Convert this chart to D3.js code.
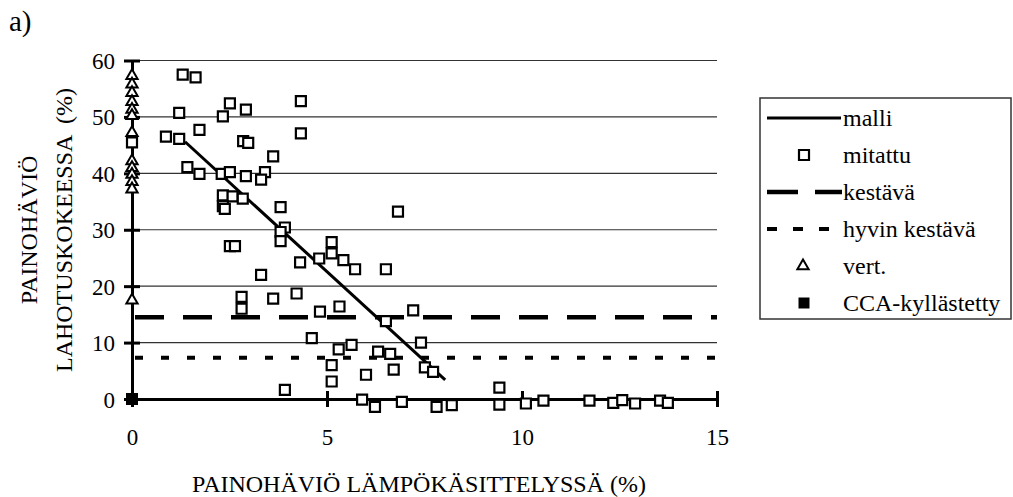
<!DOCTYPE html>
<html>
<head>
<meta charset="utf-8">
<script src="https://cdn.jsdelivr.net/npm/d3@7"></script>
<style>
body{margin:0;background:#fff;}
text{font-family:"Liberation Serif","Times New Roman",serif;fill:#000;}
</style>
</head>
<body>
<svg id="chart" width="1013" height="497"></svg>
<script>
// ticks
const xTicks = [0, 5, 10, 15];
const yTicks = [0, 10, 20, 30, 40, 50, 60];

// model line (malli)
const malli = [[1.36, 45.6], [8.03, 3.4]];

// measured points (mitattu)
const mitattu = [
    [0, 45.5],
    [0.87, 46.5], [1.21, 46.1], [1.21, 50.7], [1.30, 57.5], [1.63, 57.0], [1.73, 47.7], [1.42, 41.1], [1.73, 39.9],
    [2.33, 50.1], [2.51, 52.4], [2.92, 51.3], [2.85, 45.7], [2.98, 45.4], [2.30, 39.9], [2.51, 40.2], [2.92, 39.5],
    [3.41, 40.2], [3.31, 38.9], [3.62, 43.0], [4.33, 52.8], [4.33, 47.1],
    [2.33, 36.1], [2.58, 35.9], [2.84, 35.5], [2.33, 34.2], [2.38, 33.7], [3.81, 34.0], [3.92, 30.4], [3.81, 29.6],
    [3.81, 28.0], [2.51, 27.1], [2.64, 27.1], [4.31, 24.2], [3.31, 22.0], [2.81, 18.1], [2.81, 16.0], [3.62, 17.8],
    [4.22, 18.7], [3.92, 1.6],
    [6.82, 33.2], [5.12, 27.8], [5.12, 25.8], [4.80, 24.9], [5.42, 24.6], [5.72, 23.0], [6.51, 23.0], [4.82, 15.5],
    [5.32, 16.4], [6.51, 13.8], [7.21, 15.7], [4.61, 10.8], [5.30, 8.8], [5.63, 9.6], [6.31, 8.4], [6.62, 8.0],
    [7.41, 10.0], [5.12, 6.0], [5.12, 3.1], [6.0, 4.3], [6.71, 5.2], [7.51, 5.6], [7.72, 4.8], [9.42, 2.0],
    [5.9, -0.1], [6.92, -0.5], [6.23, -1.4], [7.81, -1.4], [8.2, -1.1], [9.42, -1.0], [10.1, -0.8], [10.55, -0.3],
    [11.73, -0.3], [12.34, -0.7], [12.57, -0.2], [12.9, -0.8], [13.54, -0.3], [13.74, -0.7]
];

// reference points at x = 0 (vert.)
const vertY = [57.3, 55.8, 54.3, 52.7, 51.3, 50.2, 47.2, 42.2, 41.0, 39.8, 38.5, 37.2, 17.5];

// CCA treated
const cca = [[0, 0]];

// durability limits
const limitNames = ['kestävä', 'hyvin kestävä'];
const limitValues = [14.5, 7.3];

const legendNames = ['malli', 'mitattu', 'kestävä', 'hyvin kestävä', 'vert.', 'CCA-kyllästetty'];

const svg = d3.select('#chart');
const FONT = '"Liberation Serif","Times New Roman",serif';

const x = d3.scaleLinear().domain([0, 15]).range([132, 717]);
const y = d3.scaleLinear().domain([0, 60]).range([399, 60.5]);

// gridlines
svg.append('g').selectAll('line')
    .data(yTicks.filter(d => d > 0))
    .enter().append('line')
    .attr('x1', x(0)).attr('x2', x(15))
    .attr('y1', d => y(d)).attr('y2', d => y(d))
    .attr('stroke', '#333')
    .attr('stroke-width', 1.2);

// y axis
let yAxis = svg.append('g')
    .attr('transform', 'translate(' + x(0) + ',0)')
    .call(d3.axisLeft(y).tickValues(yTicks).tickSize(8).tickSizeOuter(0));
yAxis.attr('font-family', FONT).attr('font-size', 23);
yAxis.select('.domain').attr('stroke-width', 3);
yAxis.selectAll('.tick line').attr('x1', -8).attr('x2', 8).attr('stroke-width', 3);
yAxis.selectAll('.tick text')
    .attr('x', -17)
    .attr('dy', '0.35em');

// x axis
let xAxis = svg.append('g')
    .attr('transform', 'translate(0,' + y(0) + ')')
    .call(d3.axisBottom(x).tickValues(xTicks).tickSize(8).tickSizeOuter(0));
xAxis.attr('font-family', FONT).attr('font-size', 23);
xAxis.select('.domain').attr('stroke-width', 3);
xAxis.selectAll('.tick line').attr('y1', -8).attr('y2', 8).attr('stroke-width', 3);
xAxis.selectAll('.tick text')
    .attr('y', 38)
    .attr('dy', '0.35em');

// limit lines
const dashes = ['29,19', '8,18'];
svg.append('g').selectAll('line')
    .data(limitValues)
    .enter().append('line')
    .attr('x1', x(0) + 3).attr('x2', x(15))
    .attr('y1', d => y(d)).attr('y2', d => y(d))
    .attr('stroke', '#000')
    .attr('stroke-width', (d, i) => i == 0 ? 4.5 : 4)
    .attr('stroke-dasharray', (d, i) => dashes[i]);

// model line
svg.append('path')
    .datum(malli)
    .attr('d', d3.line().x(d => x(d[0])).y(d => y(d[1])))
    .attr('fill', 'none')
    .attr('stroke', '#000')
    .attr('stroke-width', 3);

// markers
const square = d3.symbol().type(d3.symbolSquare).size(100);
const tri = d3.symbol().type(d3.symbolTriangle).size(55);

svg.append('g').selectAll('path')
    .data(mitattu)
    .enter().append('path')
    .attr('d', square)
    .attr('transform', d => 'translate(' + x(d[0]) + ',' + y(d[1]) + ')')
    .attr('fill', '#fff')
    .attr('stroke', '#000')
    .attr('stroke-width', 2.2);

svg.append('g').selectAll('path')
    .data(vertY)
    .enter().append('path')
    .attr('d', tri)
    .attr('transform', d => 'translate(' + x(0) + ',' + y(d) + ')')
    .attr('fill', '#fff')
    .attr('stroke', '#000')
    .attr('stroke-width', 2);

svg.append('g').selectAll('path')
    .data(cca)
    .enter().append('path')
    .attr('d', d3.symbol().type(d3.symbolSquare).size(144))
    .attr('transform', d => 'translate(' + x(d[0]) + ',' + y(d[1]) + ')')
    .attr('fill', '#000');

// titles
function label(str, tx, ty, size, anchor, rot)
{
    return svg.append('text')
        .attr('transform', 'translate(' + tx + ',' + ty + ')' + (rot ? ' rotate(-90)' : ''))
        .attr('text-anchor', anchor)
        .style('font-size', size + 'px')
        .style('white-space', 'pre')
        .text(str);
}

label('a)', 9, 31, 29, 'start', false);
label('PAINOHÄVIÖ', 37, 230, 24, 'middle', true);
label('LAHOTUSKOKEESSA  (%)', 72, 230, 24, 'middle', true);
label('PAINOHÄVIÖ LÄMPÖKÄSITTELYSSÄ (%)', 419, 492, 24, 'middle', false);

// legend
let legend = svg.append('g');
legend.append('rect')
    .attr('x', 760).attr('y', 98)
    .attr('width', 251).attr('height', 221)
    .attr('fill', '#fff')
    .attr('stroke', '#333')
    .attr('stroke-width', 1.5);

const ly = i => 118 + i * 37;

legend.append('line')
    .attr('x1', 767).attr('x2', 841).attr('y1', ly(0)).attr('y2', ly(0))
    .attr('stroke', '#000').attr('stroke-width', 3);
legend.append('path')
    .attr('d', square)
    .attr('transform', 'translate(804,' + ly(1) + ')')
    .attr('fill', '#fff').attr('stroke', '#000').attr('stroke-width', 2.2);
legend.append('line')
    .attr('x1', 767).attr('x2', 842).attr('y1', ly(2)).attr('y2', ly(2))
    .attr('stroke', '#000').attr('stroke-width', 4.5).attr('stroke-dasharray', '31,17');
legend.append('line')
    .attr('x1', 767).attr('x2', 832).attr('y1', ly(3)).attr('y2', ly(3))
    .attr('stroke', '#000').attr('stroke-width', 4).attr('stroke-dasharray', '10,16');
legend.append('path')
    .attr('d', tri)
    .attr('transform', 'translate(803,' + ly(4) + ')')
    .attr('fill', '#fff').attr('stroke', '#000').attr('stroke-width', 2);
legend.append('path')
    .attr('d', d3.symbol().type(d3.symbolSquare).size(121))
    .attr('transform', 'translate(804,' + ly(5) + ')')
    .attr('fill', '#000');

legend.selectAll('text')
    .data(legendNames)
    .enter().append('text')
    .attr('x', 843)
    .attr('y', (d, i) => ly(i))
    .attr('dy', '0.35em')
    .style('font-size', '24px')
    .text(d => d);
</script>
</body>
</html>
